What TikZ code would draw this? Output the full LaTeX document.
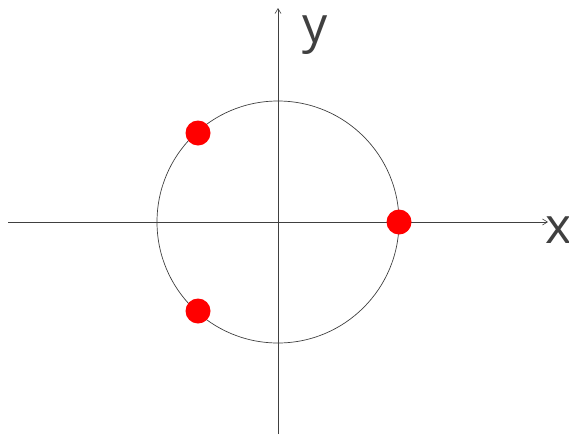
\documentclass[tikz,border=0pt]{standalone}
\usepackage{fontspec}
\setmainfont{Open Sans}
\usetikzlibrary{arrows.meta}
\definecolor{axisgray}{HTML}{404040}
\begin{document}
\begin{tikzpicture}[x=1pt,y=-1pt,
  axis/.style={draw=axisgray,line width=0.8pt,-{Straight Barb[length=5pt,width=6pt,line width=0.6pt]}},
  ring/.style={draw=axisgray,line width=0.7pt},
  dot/.style={circle,fill=red,inner sep=0pt,minimum size=25pt},
  lbl/.style={text=axisgray,font=\fontsize{50}{50}\selectfont,inner sep=0pt}]
\useasboundingbox (0,0) rectangle (569,434);
\coordinate (xs) at (8,222);
\coordinate (xe) at (548,222);
\coordinate (ys) at (278,434);
\coordinate (ye) at (278,8);
\coordinate (o) at (278,222);
\draw[axis] (xs) -- (xe);
\draw[axis] (ys) -- (ye);
\draw[ring] (o) circle[radius=121];
\node[dot] (p1) at (399,222) {};
\node[dot] (p2) at (198,133) {};
\node[dot] (p3) at (198,311) {};
\node[lbl,anchor=base] (lx) at (559,243) {x};
\node[lbl,anchor=base] (ly) at (315,42) {y};
\end{tikzpicture}
\end{document}
